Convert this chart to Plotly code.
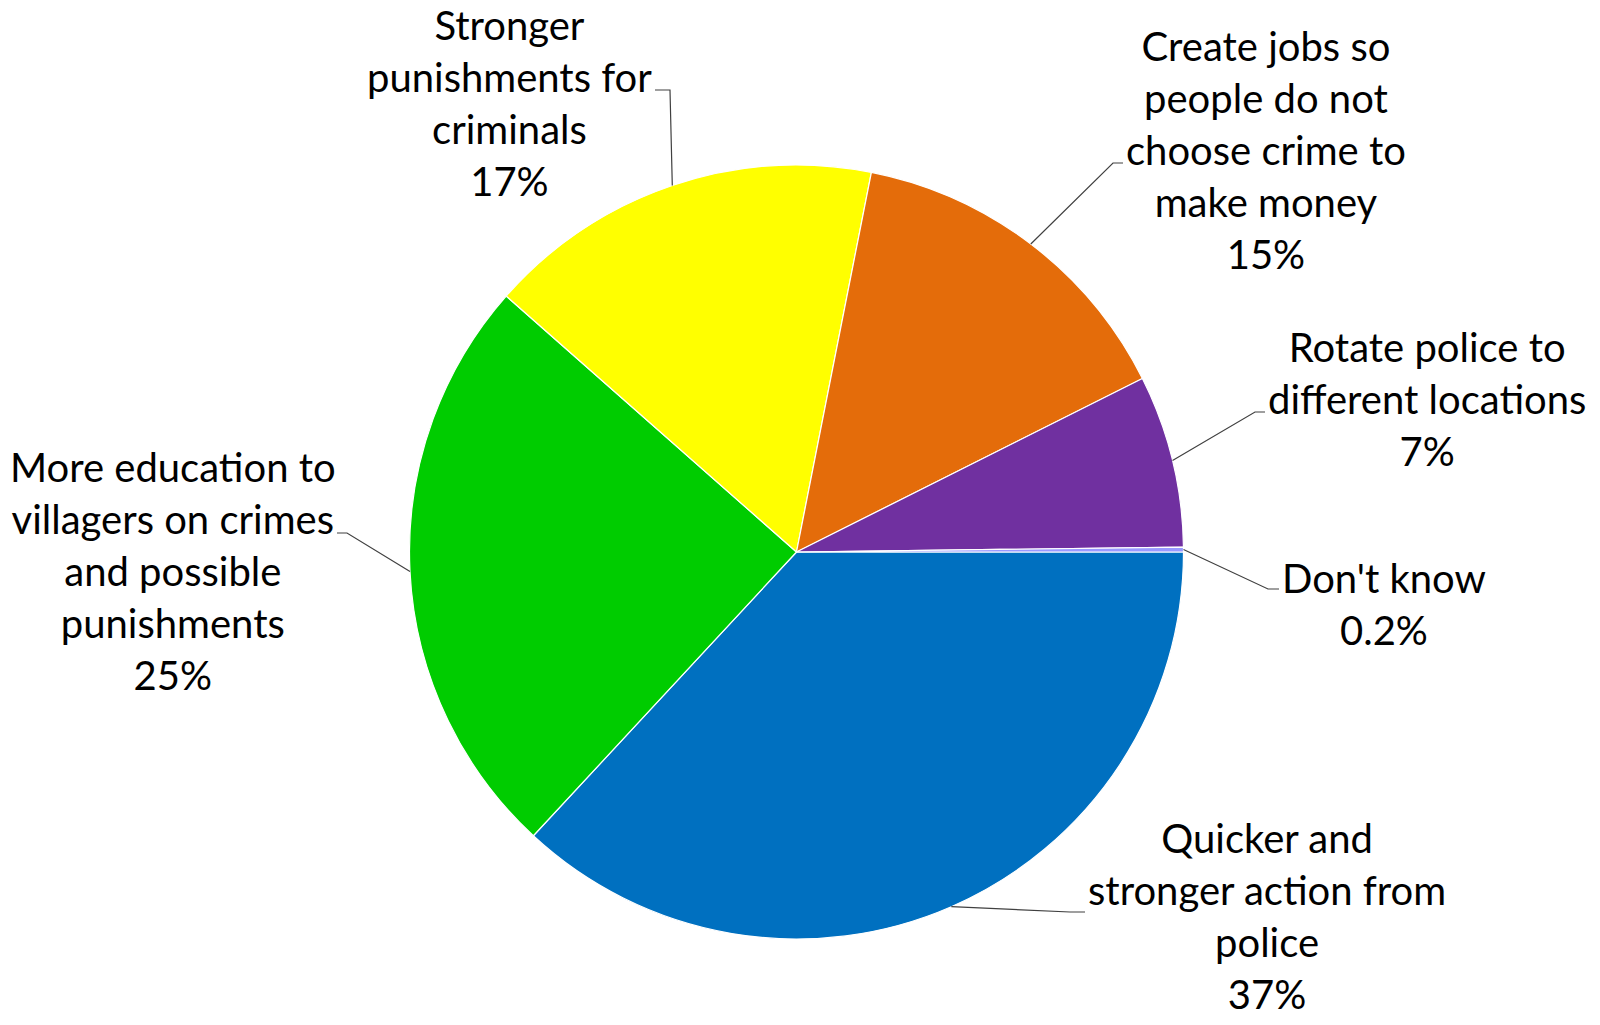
import math
import plotly.graph_objects as go

# ---- data ----
categories = [
    "Quicker and<br>stronger action from<br>police",
    "More education to<br>villagers on crimes<br>and possible<br>punishments",
    "Stronger<br>punishments for<br>criminals",
    "Create jobs so<br>people do not<br>choose crime to<br>make money",
    "Rotate police to<br>different locations",
    "Don't know",
]
values = [36.9, 24.6, 16.6, 14.5, 7.2, 0.2]
pct_labels = ["37%", "25%", "17%", "15%", "7%", "0.2%"]

# ---- styles / layout ----
colors = ["#0070C0", "#00CC00", "#FFFF00", "#E46C0A", "#7030A0", "#9999FF"]
W, H = 1600, 1025
CX, CY, R = 796.5, 552.0, 387.0  # pie centre / radius in px
FONT = "Lato"
FSIZE = 40

# label text centres (px) and leader elbows/ends (px)
text_pos = [(1267, 916), (173, 571), (509, 103), (1266, 150), (1427, 399), (1384, 604)]
elbows = [((1070, 912), (1085, 912)),
          ((347, 533), (337, 533)),
          ((670, 90), (655, 90)),
          ((1113, 163), (1123, 163)),
          ((1255, 412), (1265, 412)),
          ((1268, 589), (1279, 589))]

def px(x, y):
    return x / W, 1 - y / H

fig = go.Figure()
fig.add_trace(go.Pie(
    labels=[c.replace("<br>", " ") for c in categories],
    values=values,
    sort=False,
    direction="clockwise",
    rotation=90,
    marker=dict(colors=colors, line=dict(color="white", width=1.2)),
    textinfo="none",
    hoverinfo="label+percent",
    showlegend=False,
    domain=dict(x=[(CX - R) / W, (CX + R) / W], y=[1 - (CY + R) / H, 1 - (CY - R) / H]),
))

total = sum(values)
cum = 0.0
annotations = []
shapes = []
for i, v in enumerate(values):
    mid = (cum + v / 2) / total
    cum += v
    ang = math.radians(mid * 360)  # clockwise from 3 o'clock (screen coords)
    ax_, ay_ = CX + R * math.cos(ang), CY + R * math.sin(ang)
    (ex, ey), (tx, ty) = elbows[i]
    p0, p1, p2 = px(ax_, ay_), px(ex, ey), px(tx, ty)
    shapes.append(dict(
        type="path", xref="paper", yref="paper",
        path=f"M {p0[0]} {p0[1]} L {p1[0]} {p1[1]} L {p2[0]} {p2[1]}",
        line=dict(color="#404040", width=1.2),
    ))
    x, y = px(*text_pos[i])
    annotations.append(dict(
        x=x, y=y, xref="paper", yref="paper",
        text=categories[i] + "<br>" + pct_labels[i],
        showarrow=False, xanchor="center", yanchor="middle", align="center",
        font=dict(family=FONT, size=FSIZE, color="black"),
    ))

fig.update_layout(
    width=W, height=H,
    margin=dict(l=0, r=0, t=0, b=0),
    paper_bgcolor="white", plot_bgcolor="white",
    annotations=annotations, shapes=shapes,
)
fig.write_html(
    "out.html",
    config={"displayModeBar": False},
    post_script="document.body.style.margin='0';document.body.style.overflow='hidden';",
)
